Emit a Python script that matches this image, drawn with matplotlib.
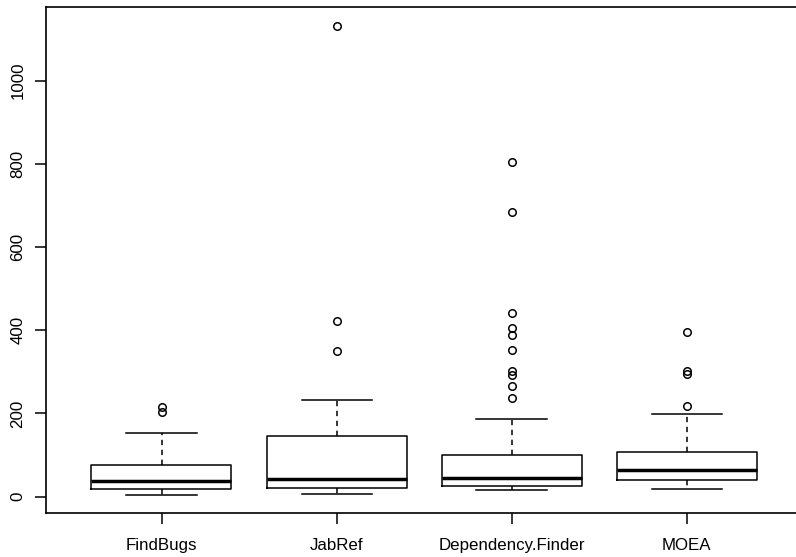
import matplotlib
matplotlib.use("Agg")
import matplotlib.pyplot as plt

# values
names = ["FindBugs", "JabRef", "Dependency.Finder", "MOEA"]
whisker_low = [5, 7, 16, 19]
q1 = [19, 22, 25, 41]
median = [38, 43, 45, 63]
q3 = [77, 146, 101, 108]
whisker_high = [154, 232, 187, 198]
outliers = [
    [204, 216],
    [349, 421, 1131],
    [238, 267, 292, 303, 353, 388, 406, 441, 684, 804],
    [217, 295, 303, 395],
]

plt.rcParams['font.family'] = ['Liberation Sans', 'DejaVu Sans']

stats = []
for i in range(len(names)):
    stats.append({
        'label': names[i],
        'whislo': whisker_low[i],
        'q1': q1[i],
        'med': median[i],
        'q3': q3[i],
        'whishi': whisker_high[i],
        'fliers': outliers[i],
    })

fig = plt.figure(figsize=(7.96, 5.57), dpi=100)
# right edge of the frame falls outside the picture, as in the reference
ax = fig.add_axes([46 / 796, 43.7 / 557, 756 / 796, 506 / 557])

ax.bxp(stats, positions=[1, 2, 3, 4], widths=0.8, capwidths=0.4,
       boxprops=dict(color='black', linewidth=1.1),
       medianprops=dict(color='black', linewidth=2.5, solid_capstyle='butt'),
       whiskerprops=dict(color='black', linewidth=1.1, linestyle=(0, (3.5, 3))),
       capprops=dict(color='black', linewidth=1.1),
       flierprops=dict(marker='o', markersize=5.4, markerfacecolor='none',
                       markeredgecolor='black', markeredgewidth=1.1))

ax.set_xlim(0.34, 4.66)
ax.set_ylim(-40, 1176)
ax.set_yticks([0, 200, 400, 600, 800, 1000])
ax.set_yticklabels(['0', '200', '400', '600', '800', '1000'], rotation=90, va='center')

for s in ['left', 'top', 'bottom']:
    ax.spines[s].set_linewidth(1.2)
ax.spines['right'].set_visible(False)

ax.tick_params(axis='both', length=7.9, width=1.1, labelsize=12.2, colors='black')
ax.tick_params(axis='x', pad=10)
ax.tick_params(axis='y', pad=7)

fig.savefig('out.png', dpi=100)
